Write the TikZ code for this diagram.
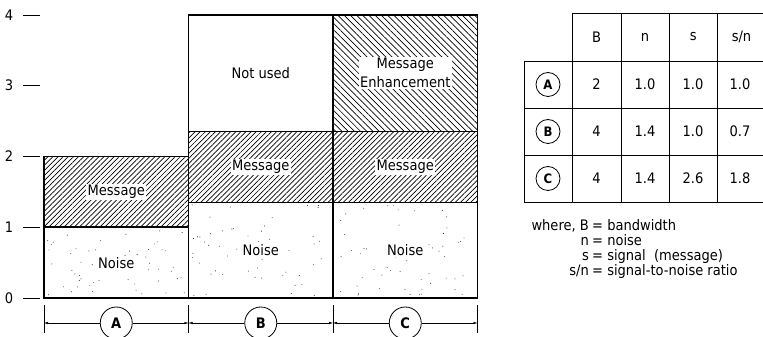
\documentclass[tikz,border=0pt]{standalone}
\usepackage{fontspec}
\setmainfont{DejaVu Sans Condensed}
\usetikzlibrary{arrows.meta,patterns.meta}

\tikzset{
  bar/.style={draw, line width=1.6pt},
  msg/.style={pattern={Lines[angle=45,distance=3.6pt,line width=0.7pt]}},
  enh/.style={pattern={Lines[angle=-45,distance=4.4pt,line width=0.7pt]}},
  lbl/.style={fill=white, inner sep=1.2pt, align=center},
  case/.style={circle, draw, thick, fill=white, inner sep=0pt,
    font=\bfseries\fontsize{14.5}{15}\selectfont},
  grid/.style={line width=0.8pt}
}

\begin{document}
\begin{tikzpicture}[x=1pt, y=1pt, font=\fontsize{14.5}{16}\selectfont]
  \useasboundingbox (0,0) rectangle (763,337);

  %this draws the axis ticks
  \foreach \k in {0,...,4} {
    \node (y\k) at (9,{39+70.8*\k}) {\k};
    \draw (23,{39+70.8*\k}) -- (40,{39+70.8*\k});
  }

  %this draws the bars
  \begin{scope}[shift={(44,39)}, x=144.5pt, y=70.8pt]
    \filldraw[bar, msg] (0,1) rectangle (1,2);
    \filldraw[bar, msg] (1,1.35) rectangle (2,2.35);
    \filldraw[bar, msg] (2,1.35) rectangle (3,2.35);
    \filldraw[bar, enh] (2,2.35) rectangle (3,4);
    %stipple for the noise
    \pgfmathsetseed{11}
    \foreach \l/\h in {0/1, 1/1.35, 2/1.35} {
      \foreach \i in {1,...,55}
        \fill ({\l+0.02+0.96*rnd},{0.03+(\h-0.06)*rnd}) circle (0.45pt);
    }
    \draw[bar] (0,0) rectangle (1,1);
    \draw[bar] (1,0) rectangle (2,1.35);
    \draw[bar] (2,0) rectangle (3,1.35);
    \draw[bar] (1,2.35) rectangle (2,4);

    \node[lbl] (msgA) at (0.5,1.5) {Message};
    \node[lbl] (msgB) at (1.5,1.85) {Message};
    \node[lbl] (msgC) at (2.5,1.85) {Message};
    \node[lbl] (noiA) at (0.5,0.5) {Noise};
    \node[lbl] (noiB) at (1.5,0.675) {Noise};
    \node[lbl] (noiC) at (2.5,0.675) {Noise};
    \node (unused) at (1.5,3.175) {Not used};
    \node[lbl] (enhC) at (2.5,3.175) {Message\\[3pt]Enhancement};
  \end{scope}

  %this draws the bandwidth marks
  \foreach \k in {0,...,3} {
    \draw (44+144.5*\k,4) -- (44+144.5*\k,32);
    \coordinate (t\k) at (44+144.5*\k,14);
  }
  \foreach \c/\k in {A/0, B/1, C/2}
    \node[case, minimum size=32pt] (d\c) at (116.25+144.5*\k,14) {\c};
  \foreach \c/\l/\r in {A/0/1, B/1/2, C/2/3} {
    \draw[-{Latex[length=4pt,width=2.5pt]}] (d\c) -- (t\l);
    \draw[-{Latex[length=4pt,width=2.5pt]}] (d\c) -- (t\r);
  }

  %this draws the table
  \draw[grid] (572,324) -- (763,324);
  \foreach \y in {276,229,182,135}
    \draw[grid] (524,\y) -- (763,\y);
  \draw[grid] (524,276) -- (524,135);
  \foreach \x in {572,621,669,717}
    \draw[grid] (\x,324) -- (\x,135);

  \foreach \t [count=\c] in {B,n,s,s/n}
    \node (h\c) at ({548.3+48.3*\c},300) {\t};
  \foreach \r/\vb/\vn/\vs/\vsn [count=\k] in
      {A/2/1.0/1.0/1.0, B/4/1.4/1.0/0.7, C/4/1.4/2.6/1.8} {
    \node[case, minimum size=24pt, font=\bfseries\fontsize{13}{13}\selectfont]
      (r\r) at (548,{252.5-47*(\k-1)}) {\r};
    \node (b\r) at (596.5,{252.5-47*(\k-1)}) {\vb};
    \node (n\r) at (645,{252.5-47*(\k-1)}) {\vn};
    \node (s\r) at (693,{252.5-47*(\k-1)}) {\vs};
    \node (sn\r) at (740,{252.5-47*(\k-1)}) {\vsn};
  }

  %this draws the key
  \foreach \a/\b [count=\k] in {{where, B}/bandwidth, n/noise,
      s/{signal\ \ (message)}, {s/n}/signal-to-noise ratio} {
    \node[anchor=base east, inner sep=0pt] (ka\k) at (589,{106-15*(\k-1)}) {\a};
    \node[anchor=base west, inner sep=0pt] (kb\k) at (592,{106-15*(\k-1)}) {= \b};
  }
\end{tikzpicture}
\end{document}
